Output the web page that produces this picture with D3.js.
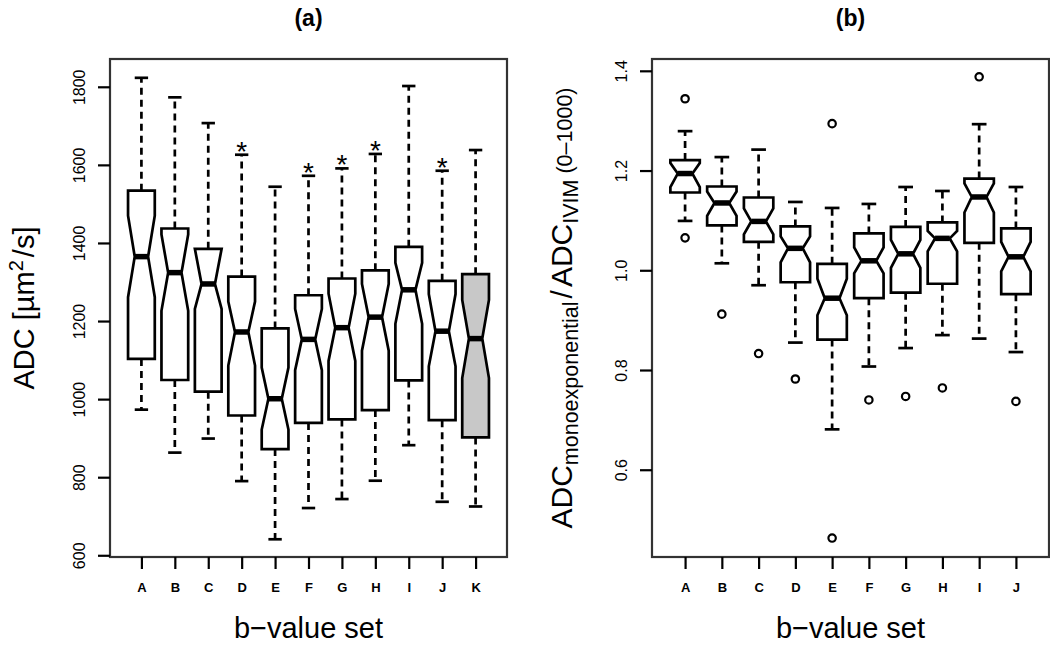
<!DOCTYPE html>
<html><head><meta charset="utf-8">
<script src="https://cdn.jsdelivr.net/npm/d3@7"></script>
<style>
body{margin:0;background:#fff}
text{font-family:"Liberation Sans",Arial,Helvetica,sans-serif;fill:#000}
</style>
</head><body>
<svg id="c" width="1050" height="649"></svg>
<script>
// ---------- Panel (a) data ----------
const catsA = ["A","B","C","D","E","F","G","H","I","J","K"];
const lowA   = [973, 863, 899, 790, 641, 721, 744, 791, 882, 737, 725];
const q1A    = [1103,1049,1019, 958, 872, 939, 948, 972,1048, 946, 902];
const medA   = [1365,1324,1295,1172,1001,1153,1183,1210,1280,1174,1155];
const q3A    = [1534,1437,1385,1314,1181,1266,1309,1330,1390,1303,1320];
const highA  = [1823,1773,1707,1626,1544,1572,1591,1628,1802,1585,1638];
const nLoA   = [1261,1226,1231,1086, 922,1074,1098,1124,1193,1084,1054];
const nHiA   = [1470,1422,1385,1250,1081,1231,1270,1295,1349,1269,1254];
const starA  = [false,false,false,true,false,true,true,true,false,true,false];
const grayA  = [false,false,false,false,false,false,false,false,false,false,true];
const ticksA = [600,800,1000,1200,1400,1600,1800];

// ---------- Panel (b) data ----------
const catsB = ["A","B","C","D","E","F","G","H","I","J"];
const lowB   = [1.099,1.014,0.970,0.855,0.681,0.807,0.844,0.870,0.863,0.836];
const q1B    = [1.156,1.090,1.057,0.976,0.861,0.944,0.955,0.973,1.055,0.952];
const medB   = [1.194,1.135,1.098,1.044,0.944,1.019,1.033,1.064,1.147,1.027];
const q3B    = [1.221,1.168,1.146,1.088,1.013,1.074,1.087,1.096,1.184,1.084];
const highB  = [1.279,1.227,1.242,1.137,1.125,1.133,1.167,1.159,1.293,1.167];
const nLoB   = [1.167,1.109,1.072,1.016,0.910,0.994,1.005,1.038,1.116,0.998];
const nHiB   = [1.215,1.158,1.124,1.068,0.983,1.046,1.061,1.079,1.174,1.057];
const outB   = [[1.344,1.065],[0.912],[0.833],[0.782],[1.294,0.463],[0.740],[0.747],[0.764],[1.388],[0.737]];
const ticksB = [0.6,0.8,1.0,1.2,1.4];

const svg = d3.select("#c");
svg.append("rect").attr("width",1050).attr("height",649).attr("fill","#fff");

function drawPanel(cfg, d){
  const x = d3.scaleLinear().domain(cfg.xDomain).range([cfg.left, cfg.right]);
  const y = d3.scaleLinear().domain(cfg.yDomain).range([cfg.bottom, cfg.top]);
  const step = x(2) - x(1);
  const w = 0.8 * step;
  const g = svg.append("g");
  const LW = 2.7;

  d.cats.forEach((c, i) => {
    const cx = x(i + 1);
    // whiskers (dashed) and caps
    [[d.q3[i], d.high[i]], [d.q1[i], d.low[i]]].forEach(([a, b]) => {
      g.append("line").attr("x1", cx).attr("x2", cx)
        .attr("y1", y(a)).attr("y2", y(b))
        .attr("stroke", "#000").attr("stroke-width", LW)
        .attr("stroke-dasharray", "7,5");
      g.append("line").attr("x1", cx - w/4).attr("x2", cx + w/4)
        .attr("y1", y(b)).attr("y2", y(b))
        .attr("stroke", "#000").attr("stroke-width", LW);
    });
    // notched box
    const pts = [
      [cx - w/2, y(d.q1[i])], [cx - w/2, y(d.nLo[i])], [cx - w/4, y(d.med[i])],
      [cx - w/2, y(d.nHi[i])], [cx - w/2, y(d.q3[i])], [cx + w/2, y(d.q3[i])],
      [cx + w/2, y(d.nHi[i])], [cx + w/4, y(d.med[i])], [cx + w/2, y(d.nLo[i])],
      [cx + w/2, y(d.q1[i])]
    ];
    g.append("path").attr("d", d3.line()(pts) + "Z")
      .attr("fill", d.gray && d.gray[i] ? "#c8c8c8" : "#fff")
      .attr("stroke", "#000").attr("stroke-width", LW)
      .attr("stroke-linejoin", "miter");
    // median
    g.append("line").attr("x1", cx - w/4).attr("x2", cx + w/4)
      .attr("y1", y(d.med[i])).attr("y2", y(d.med[i]))
      .attr("stroke", "#000").attr("stroke-width", 5.5);
    // outliers
    if (d.out) d.out[i].forEach(v => {
      g.append("circle").attr("cx", cx).attr("cy", y(v)).attr("r", 3.7)
        .attr("fill", "none").attr("stroke", "#000").attr("stroke-width", 2.2);
    });
    // asterisks
    if (d.star && d.star[i]) {
      g.append("text").attr("x", cx).attr("y", y(d.high[i]) + 6)
        .attr("text-anchor", "middle").attr("font-size", 28).text("*");
    }
  });

  // frame
  svg.append("rect").attr("x", cfg.left).attr("y", cfg.top)
    .attr("width", cfg.right - cfg.left).attr("height", cfg.bottom - cfg.top)
    .attr("fill", "none").attr("stroke", "#333").attr("stroke-width", 2.2);

  // y axis
  const ya = svg.append("g").attr("transform", `translate(${cfg.left},0)`)
    .call(d3.axisLeft(y).tickValues(d.ticks).tickSize(12).tickSizeOuter(0)
      .tickFormat(cfg.yFmt));
  ya.select(".domain").remove();
  ya.selectAll(".tick line").attr("stroke", "#000").attr("stroke-width", 2.2);
  ya.selectAll(".tick text").attr("x", null).attr("dy", null)
    .attr("text-anchor", "middle").attr("font-size", 16)
    .attr("font-family", "Liberation Sans, Arial, sans-serif")
    .attr("transform", "translate(-25,0) rotate(-90)");

  // x axis
  const xa = svg.append("g").attr("transform", `translate(0,${cfg.bottom})`)
    .call(d3.axisBottom(x).tickValues(d.cats.map((c, i) => i + 1)).tickSize(12).tickSizeOuter(0)
      .tickFormat((v) => d.cats[v - 1]));
  xa.select(".domain").remove();
  xa.selectAll(".tick line").attr("stroke", "#000").attr("stroke-width", 2.2);
  xa.selectAll(".tick text").attr("y", 34.5).attr("dy", null)
    .attr("font-size", 13).attr("font-weight", "bold")
    .attr("font-family", "Liberation Sans, Arial, sans-serif");

  // title
  const midX = (cfg.left + cfg.right) / 2;
  svg.append("text").attr("x", midX).attr("y", 26).attr("text-anchor", "middle")
    .attr("font-size", 23).attr("font-weight", "bold").text(cfg.title);
  // x label
  svg.append("text").attr("x", midX).attr("y", 638).attr("text-anchor", "middle")
    .attr("font-size", 29).text("b\u2212value set");
  return {x, y};
}

drawPanel({left:110, right:507, top:59, bottom:557, xDomain:[0.06, 11.94], yDomain:[595.6, 1871.2],
           title:"(a)", yFmt: d3.format("d")},
          {cats:catsA, low:lowA, q1:q1A, med:medA, q3:q3A, high:highA, nLo:nLoA, nHi:nHiA,
           star:starA, gray:grayA, ticks:ticksA});

drawPanel({left:652, right:1049, top:59, bottom:557, xDomain:[0.1, 10.9], yDomain:[0.425, 1.4237],
           title:"(b)", yFmt: d3.format(".1f")},
          {cats:catsB, low:lowB, q1:q1B, med:medB, q3:q3B, high:highB, nLo:nLoB, nHi:nHiB,
           out:outB, ticks:ticksB});

// y label panel (a)
const la = svg.append("text").attr("transform", "translate(34,308) rotate(-90)")
  .attr("text-anchor", "middle").attr("font-size", 29);
la.append("tspan").text("ADC [\u00b5m");
la.append("tspan").attr("font-size", 20).attr("dy", -11).text("2");
la.append("tspan").attr("dy", 11).attr("dx", 3).text("/s]");

// y label panel (b)
const lb = svg.append("text").attr("transform", "translate(572,308) rotate(-90)")
  .attr("text-anchor", "middle").attr("font-size", 30);
lb.append("tspan").text("ADC");
lb.append("tspan").attr("font-size", 21.5).attr("dy", 6).text("monoexponential");
lb.append("tspan").attr("dy", -6).attr("dx", 3).text("/");
lb.append("tspan").attr("dx", 3).text("ADC");
lb.append("tspan").attr("font-size", 21.5).attr("dy", 6).text("IVIM");
lb.append("tspan").attr("font-size", 21.5).attr("dy", -6).text(" (0\u20131000)");
</script>
</body></html>
